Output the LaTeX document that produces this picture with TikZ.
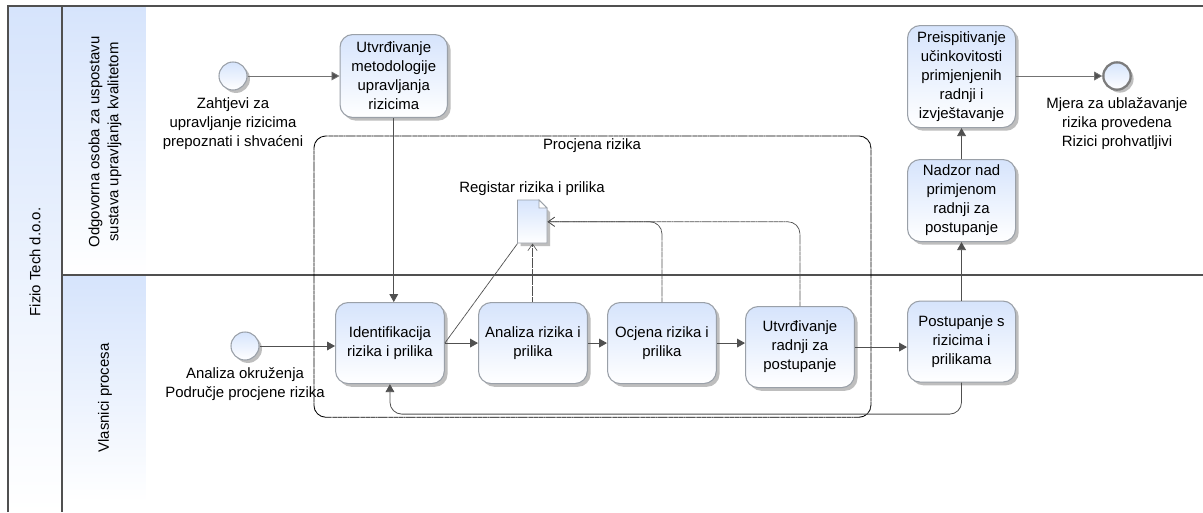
\documentclass[tikz,border=0pt]{standalone}
\usepackage{fontspec}
\setmainfont{Liberation Sans}
\usetikzlibrary{arrows.meta,shadows,calc}
\definecolor{headblue}{HTML}{D6E4FC}
\definecolor{linegray}{HTML}{505050}
\definecolor{boxedge}{HTML}{9AA0A8}
\definecolor{shadowgray}{HTML}{BEBEBE}
\tikzset{
  txt/.style={font=\fontsize{11.2}{14.25}\selectfont,align=center,text=black,inner sep=0pt},
  taskbox/.style={txt,rectangle,rounded corners=9.5,draw=boxedge,line width=0.8pt,top color=headblue,bottom color=white,
    general shadow={fill=shadowgray,shadow xshift=2.4pt,shadow yshift=-2.4pt}},
  eventc/.style={circle,inner sep=0pt,minimum size=21pt,draw=boxedge,line width=0.8pt,top color=headblue,bottom color=white,
    general shadow={fill=shadowgray,shadow xshift=2.2pt,shadow yshift=-2.2pt}},
  endc/.style={eventc,draw=linegray!75,line width=1.7pt,minimum size=20.5pt},
  head/.style={rectangle,inner sep=0pt,top color=headblue,bottom color=white},
  flow/.style={draw=linegray,line width=0.6pt,-{Triangle[length=6pt,width=6.6pt,fill=linegray]},rounded corners=9},
  assoc/.style={draw=linegray,line width=0.55pt,dash pattern=on 3pt off 0.3pt on 0.6pt off 0.3pt,rounded corners=9},
  assocarrow/.style={assoc,-{Straight Barb[length=5pt,width=7pt,line width=0.45pt]}},
  group/.style={rectangle,rounded corners=9,draw=black,line width=0.65pt,dash pattern=on 3pt off 0.3pt on 0.6pt off 0.3pt},
  poolline/.style={draw=linegray,line width=1pt}
}
\begin{document}
\begin{tikzpicture}[x=0.75pt,y=-0.75pt]
\useasboundingbox (0,0) rectangle (1203,512);
\fill[white] (0,0) rectangle (1203,512);
% headers
\node[head,anchor=north west,minimum width=40.5pt,minimum height=379pt] (poolhead) at (8.5,6.5) {};
\node[head,anchor=north west,minimum width=62pt,minimum height=200.5pt] (lanehead1) at (62.5,6.5) {};
\node[head,anchor=north west,minimum width=62pt,minimum height=170pt] (lanehead2) at (62.5,275.5) {};
% pool frame
\draw[poolline] (8,512) -- (8,6) -- (1203,6);
\draw[poolline] (62,6) -- (62,512);
\draw[poolline] (62,275) -- (1203,275);
\node[txt,rotate=90] (pooltitle) at (35,262) {Fizio Tech d.o.o.};
\node[txt,rotate=90] (lanetitle1) at (105,142) {Odgovorna osoba za uspostavu\\sustava upravljanja kvalitetom};
\node[txt,rotate=90] (lanetitle2) at (105,398) {Vlasnici procesa};
% group
\node[group,anchor=north west,minimum width=417.75pt,minimum height=211pt] (grp) at (313.5,135.5) {};
\node[txt] (grptitle) at (592,146) {Procjena rizika};
% events
\node[eventc] (s1) at (233,76) {};
\node[eventc] (s2) at (245,346) {};
\node[endc] (e1) at (1117,76) {};
\node[txt,anchor=north] (s1lab) at (233,97) {Zahtjevi za\\upravljanje rizicima\\prepoznati i shvaćeni};
\node[txt,anchor=north] (s2lab) at (245,367) {Analiza okruženja\\Područje procjene rizika};
\node[txt,anchor=north] (e1lab) at (1117,97) {Mjera za ublažavanje\\rizika provedena\\Rizici prohvatljivi};
% connector ends first drawn under boxes
\node[inner sep=0pt,minimum width=22.125pt,minimum height=32.25pt,anchor=north west] (doc) at (517.5,200) {};
\node[txt] (doclab) at (532,189) {Registar rizika i prilika};
% tasks
\newcommand{\taskat}[6]{\node[taskbox,minimum width=#3pt,minimum height=#4pt,anchor=north west] (#1) at (#2) {#5};}
\taskat{um}{339.5,34}{80.6}{62.2}{Utvrđivanje\\metodologije\\upravljanja\\rizicima}{}
\taskat{id}{335,302}{81.6}{60.8}{Identifikacija\\rizika i prilika}{}
\taskat{an}{478,302}{81.6}{60.8}{Analiza rizika i\\prilika}{}
\taskat{oc}{607,302}{81.6}{60.8}{Ocjena rizika i\\prilika}{}
\taskat{ur}{745,306}{81.6}{60.8}{Utvrđivanje\\radnji za\\postupanje}{}
\taskat{po}{907,300.5}{81}{60.8}{Postupanje s\\rizicima i\\prilikama}{}
\taskat{na}{907,159}{81}{61.5}{Nadzor nad\\primjenom\\radnji za\\postupanje}{}
\taskat{pr}{907,25}{81}{76.5}{Preispitivanje\\učinkovitosti\\primjenjenih\\radnji i\\izvještavanje}{}
% document
\fill[shadowgray] (520.5,203) -- (541,203) -- (550,212) -- (550,246) -- (520.5,246) -- cycle;
\path[draw=boxedge,line width=0.7pt,top color=headblue,bottom color=white] (517.5,200) -- (539,200) -- (547,208) -- (547,243) -- (517.5,243) -- cycle;
\draw[boxedge,line width=0.6pt,fill=white] (539,200) -- (539,208) -- (547,208) -- cycle;
% flows
\draw[flow,draw=linegray!80] (s1.east) -- (um.west |- s1.east);
\draw[flow] (um.south) -- (um.south |- id.north);
\draw[flow] (s2.east) -- (id.west |- s2.east);
\draw[flow] (id.east) -- (an.west |- id.east);
\draw[flow] (an.east) -- (oc.west |- an.east);
\draw[flow] (oc.east) -- (ur.west |- oc.east);
\draw[flow] (ur.east) -- (po.west |- ur.east);
\draw[flow] (po.north) -- (na.south);
\draw[flow] (na.north) -- (pr.south);
\draw[flow,draw=linegray!80] (pr.east |- e1.west) -- (e1.west);
\coordinate (loopa) at ($(po.south)+(0,31.5)$);
\coordinate (loopb) at (id.south |- loopa);
\draw[flow] (po.south) -- (loopa) -- (loopb) -- (id.south);
% associations
\draw[assoc] (id.east) -- (doc.south west);
\draw[assocarrow] (an.north -| doc.south) -- (doc.south);
\draw[assocarrow] (oc.north) -- (oc.north |- doc.east) -- (doc.east);
\draw[assocarrow] (ur.north) -- (ur.north |- doc.east) -- (doc.east);
\end{tikzpicture}
\end{document}
